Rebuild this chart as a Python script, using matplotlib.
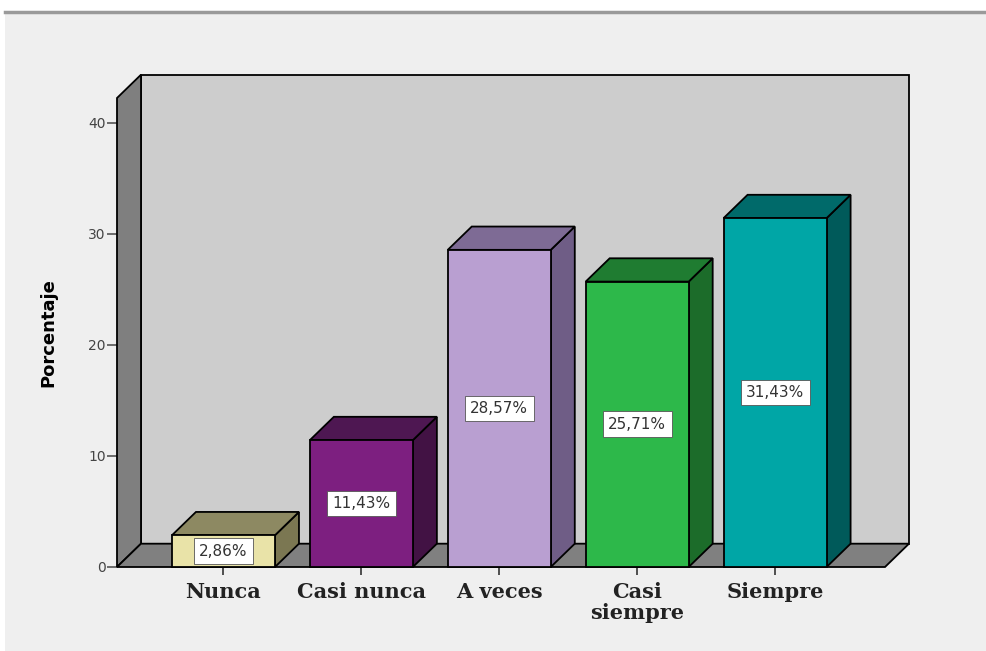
import matplotlib
matplotlib.use("Agg")
import matplotlib.pyplot as plt
from matplotlib.patches import Polygon, Rectangle
from matplotlib.lines import Line2D

categories = ["Nunca", "Casi nunca", "A veces", "Casi\nsiempre", "Siempre"]
percent = [2.86, 11.43, 28.57, 25.71, 31.43]
value_labels = ["2,86%", "11,43%", "28,57%", "25,71%", "31,43%"]
y_ticks = [0, 10, 20, 30, 40]

# front, top and side shades for each box
front_colors = ["#e9e3a8", "#7d1f80", "#b99fd1", "#2db84a", "#00a6a6"]
top_colors = ["#8d8962", "#4e1752", "#7e6b95", "#1f7c31", "#006a6a"]
side_colors = ["#7b7752", "#421244", "#6f5d86", "#1c6c2a", "#005a5a"]

YMAX = 42.25
XMIN, XMAX = -0.772, 4.797
BAR_W = 0.747
DX, DY = 0.174, 2.1   # depth offset in data units

fig = plt.figure(figsize=(9.86, 6.51), dpi=100)
fig.patch.set_facecolor("white")
fig.add_artist(Rectangle((5 / 986, 0), 1, 1 - 12 / 651, transform=fig.transFigure,
                         facecolor="#efefef", edgecolor="none", zorder=-10))
fig.add_artist(Line2D([5 / 986, 1], [1 - 12 / 651] * 2, transform=fig.transFigure,
                      color="#9a9a9a", lw=2.5))

ax = fig.add_axes([117 / 986, 84 / 651, 768 / 986, 469 / 651])
ax.set_xlim(XMIN, XMAX)
ax.set_ylim(0, YMAX)
ax.patch.set_visible(False)
for s in ax.spines.values():
    s.set_visible(False)


def poly(pts, fc, z):
    ax.add_patch(Polygon(pts, closed=True, facecolor=fc, edgecolor="black",
                         lw=1.3, joinstyle="miter", clip_on=False, zorder=z))


# back wall, left wall, floor
poly([(XMIN + DX, DY), (XMAX + DX, DY), (XMAX + DX, YMAX + DY), (XMIN + DX, YMAX + DY)],
     "#cdcdcd", 1)
poly([(XMIN, 0), (XMIN + DX, DY), (XMIN + DX, YMAX + DY), (XMIN, YMAX)], "#7f7f7f", 2)
poly([(XMIN, 0), (XMAX, 0), (XMAX + DX, DY), (XMIN + DX, DY)], "#808080", 2)

for i, v in enumerate(percent):
    x0, x1 = i - BAR_W / 2, i + BAR_W / 2
    poly([(x1, 0), (x1 + DX, DY), (x1 + DX, v + DY), (x1, v)], side_colors[i], 3)
    poly([(x0, v), (x1, v), (x1 + DX, v + DY), (x0 + DX, v + DY)], top_colors[i], 3)
    poly([(x0, 0), (x1, 0), (x1, v), (x0, v)], front_colors[i], 4)
    ax.text(i, v / 2, value_labels[i], ha="center", va="center", fontsize=11,
            color="#333333", zorder=6,
            bbox=dict(boxstyle="square,pad=0.35", fc="white", ec="#555555", lw=0.6))

ax.set_yticks(y_ticks)
ax.set_xticks(range(len(categories)))
ax.set_xticklabels(categories, fontfamily="DejaVu Serif", fontweight="bold",
                   fontsize=15, color="#222222", linespacing=1.05)
ax.tick_params(axis="x", length=6, width=1.2, color="#333333", pad=5)
ax.tick_params(axis="y", length=7, width=1.2, color="#555555", labelsize=10,
               labelcolor="#444444", pad=1)
ax.set_ylabel("Porcentaje", fontweight="bold", fontsize=13, labelpad=22)

fig.savefig("out.png", dpi=100, facecolor=fig.get_facecolor())
